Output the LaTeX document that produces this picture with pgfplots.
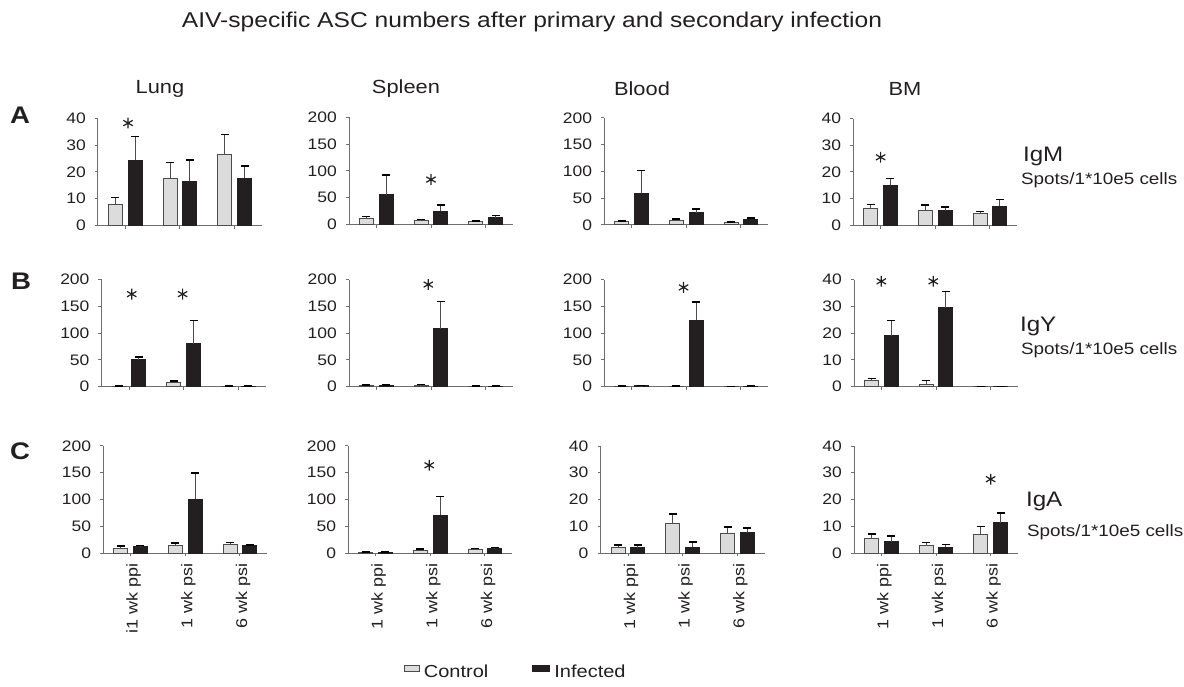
\documentclass[border=0pt]{standalone}
\usepackage{fontspec}
\setmainfont{Liberation Sans}[FakeStretch=1.15]
\usepackage{pgfplots}
\pgfplotsset{compat=1.18}
\definecolor{ctrl}{HTML}{DCDCDC}
\definecolor{inf}{HTML}{231F20}
\definecolor{axgray}{HTML}{6E6E6E}
\definecolor{txt}{HTML}{231F20}
\pgfplotsset{
 panel/.style={scale only axis, width=82pt, height=53.5pt, xmin=-0.5, xmax=2.5, ymin=0,
   enlargelimits=false, clip=false,
   axis x line*=bottom, axis y line*=left, axis line style={axgray, line width=0.5pt},
   tick align=outside, major tick length=1.6pt, tick style={axgray, line width=0.5pt},
   xtick={0,1,2}, xticklabels={,,},
   /pgf/number format/assume math mode=true,
   ticklabel style={font=\fontsize{7.6}{8.5}\selectfont, text=txt},
   yticklabel style={xshift=-1pt},
   anchor=south west},
 s40/.style={ymax=40, ytick={0,10,20,30,40}},
 s200/.style={ymax=200, ytick={0,50,100,150,200}},
 rotlab/.style={xticklabel style={rotate=90, anchor=east, yshift=-1.5pt, font=\fontsize{7.8}{9}\selectfont}},
 cbar/.style={ybar, bar width=7pt, bar shift=0pt, fill=ctrl, draw=black!70, line width=0.5pt,
   legend image code/.code={\draw[fill=ctrl, draw=black!70, line width=0.5pt] (0pt,0.5pt) rectangle (7.5pt,3.5pt);},
   error bars/.cd, y dir=plus, y explicit, error bar style={line width=0.5pt, black!70},
   error mark options={rotate=90, black, line width=0.8pt, mark size=2pt}},
 ibar/.style={ybar, bar width=7pt, bar shift=0pt, fill=inf, draw=inf, line width=0.5pt,
   legend image code/.code={\draw[fill=inf, draw=inf, line width=0.5pt] (0pt,0.5pt) rectangle (8.5pt,3.5pt);},
   error bars/.cd, y dir=plus, y explicit, error bar style={line width=0.5pt, black!70},
   error mark options={rotate=90, black, line width=0.8pt, mark size=2pt}},
 star/.style={only marks, mark=asterisk, mark size=2.7pt, mark options={line width=0.6pt, txt}},
}
\begin{document}
\begin{tikzpicture}
\useasboundingbox (0,0) rectangle (592pt,343pt);
% titles
\node[font=\fontsize{10.7}{12}\selectfont, text=txt] at (266pt,332pt) {AIV-specific ASC numbers after primary and secondary infection};
\foreach \x/\t in {80/Lung, 203/Spleen, 321/Blood, 452.5/BM}
  \node[font=\fontsize{9.5}{11}\selectfont, text=txt] at (\x pt,298.5pt) {\t};
\node[font=\fontsize{12}{13}\selectfont\bfseries, text=txt] at (10pt,285.25pt) {A};
\node[font=\fontsize{12}{13}\selectfont\bfseries, text=txt] at (10.5pt,202.5pt) {B};
\node[font=\fontsize{12}{13}\selectfont\bfseries, text=txt] at (10pt,117.5pt) {C};
\node[font=\fontsize{10.5}{12}\selectfont, text=txt, anchor=west] at (508pt,265pt) {IgM};
\node[font=\fontsize{8.2}{9}\selectfont, text=txt, anchor=west] at (507pt,253pt) {Spots/1*10e5 cells};
\node[font=\fontsize{10.5}{12}\selectfont, text=txt, anchor=west] at (506.5pt,180pt) {IgY};
\node[font=\fontsize{8.2}{9}\selectfont, text=txt, anchor=west] at (507pt,168pt) {Spots/1*10e5 cells};
\node[font=\fontsize{10.5}{12}\selectfont, text=txt, anchor=west] at (509.5pt,92.5pt) {IgA};
\node[font=\fontsize{8.2}{9}\selectfont, text=txt, anchor=west] at (510pt,77pt) {Spots/1*10e5 cells};

% bars: control at group-0.18, infected at group+0.18
% ===== Row A (IgM) =====
\begin{axis}[panel, s40, at={(49pt,230.25pt)}]
\addplot[cbar] coordinates {(-0.18,8.0) +- (0,2.5) (0.82,17.6) +- (0,5.9) (1.82,26.6) +- (0,7.4)};
\addplot[ibar] coordinates {(0.18,24.4) +- (0,8.8) (1.18,16.5) +- (0,8.0) (2.18,17.6) +- (0,4.6)};
\addplot[star] coordinates {(0.05,38.3)};
\end{axis}
\begin{axis}[panel, s200, at={(174.5pt,230.75pt)}]
\addplot[cbar] coordinates {(-0.18,11) +- (0,3.8) (0.82,6.8) +- (0,2.2) (1.82,5) +- (0,1)};
\addplot[ibar] coordinates {(0.18,56) +- (0,37) (1.18,24.6) +- (0,12.4) (2.18,13) +- (0,3.6)};
\addplot[star] coordinates {(1,84)};
\end{axis}
\begin{axis}[panel, s200, at={(302.15pt,230.5pt)}]
\addplot[cbar] coordinates {(-0.18,6) +- (0,2) (0.82,8) +- (0,3) (1.82,4.9) +- (0,1.1)};
\addplot[ibar] coordinates {(0.18,59.5) +- (0,42.5) (1.18,23.3) +- (0,6.7) (2.18,11) +- (0,2.5)};
\end{axis}
\begin{axis}[panel, s40, at={(426.65pt,230.25pt)}]
\addplot[cbar] coordinates {(-0.18,6.4) +- (0,1.4) (0.82,5.6) +- (0,2.1) (1.82,4.6) +- (0,0.6)};
\addplot[ibar] coordinates {(0.18,15.1) +- (0,2.4) (1.18,5.6) +- (0,1.3) (2.18,7.2) +- (0,2.5)};
\addplot[star] coordinates {(0,25.5)};
\end{axis}

% ===== Row B (IgY) =====
\begin{axis}[panel, s200, at={(50.85pt,149.65pt)}]
\addplot[cbar] coordinates {(-0.18,0.8) +- (0,0.4) (0.82,8) +- (0,3) (1.82,0.5) +- (0,0.3)};
\addplot[ibar] coordinates {(0.18,50) +- (0,5) (1.18,80) +- (0,44) (2.18,0.8) +- (0,0.4)};
\addplot[star] coordinates {(0.05,173) (0.98,173)};
\end{axis}
\begin{axis}[panel, s200, at={(174.5pt,149.65pt)}]
\addplot[cbar] coordinates {(-0.18,2) +- (0,1) (0.82,2.5) +- (0,1.5) (1.82,0.5) +- (0,0.3)};
\addplot[ibar] coordinates {(0.18,2) +- (0,1.5) (1.18,108.6) +- (0,50.9) (2.18,1) +- (0,0.5)};
\addplot[star] coordinates {(0.95,191)};
\end{axis}
\begin{axis}[panel, s200, at={(302.15pt,149.65pt)}]
\addplot[cbar] coordinates {(-0.18,0.8) +- (0,0.2) (0.82,1) +- (0,0.5) (1.82,0.5) +- (0,0.2)};
\addplot[ibar] coordinates {(0.18,1.5) +- (0,0.5) (1.18,124.5) +- (0,33.5) (2.18,0.8) +- (0,0.2)};
\addplot[star] coordinates {(0.95,185.6)};
\end{axis}
\begin{axis}[panel, s40, at={(427pt,149.65pt)}]
\addplot[cbar] coordinates {(-0.18,2.5) +- (0,0.6) (0.82,1) +- (0,1.3) (1.82,0.1) +- (0,0)};
\addplot[ibar] coordinates {(0.18,19.1) +- (0,5.7) (1.18,29.6) +- (0,6.0) (2.18,0.1) +- (0,0)};
\addplot[star] coordinates {(0,39.4) (0.95,39.4)};
\end{axis}

% ===== Row C (IgA) =====
\begin{axis}[panel, s200, rotlab, at={(51.65pt,66.5pt)}, xticklabels={i1 wk ppi,1 wk psi,6 wk psi}]
\addplot[cbar] coordinates {(-0.18,8.6) +- (0,5) (0.82,14) +- (0,5) (1.82,16) +- (0,3.8)};
\addplot[ibar] coordinates {(0.18,11.7) +- (0,2.3) (1.18,100.6) +- (0,49.4) (2.18,14) +- (0,1.4)};
\end{axis}
\begin{axis}[panel, s200, rotlab, at={(174.15pt,66.5pt)}, xticklabels={1 wk ppi,1 wk psi,6 wk psi},
  legend columns=2,
  legend style={at={(0.30,-1.12)}, anchor=west, draw=none, fill=none, text=txt,
    font=\fontsize{8.7}{10}\selectfont, /tikz/every even column/.append style={column sep=20pt}}]
\addplot[cbar] coordinates {(-0.18,1) +- (0,1) (0.82,5) +- (0,3) (1.82,6.8) +- (0,1.9)};
\addlegendentry{Control}
\addplot[ibar] coordinates {(0.18,1.5) +- (0,0.7) (1.18,70.8) +- (0,34.8) (2.18,9.3) +- (0,0.7)};
\addlegendentry{Infected}
\addplot[star] coordinates {(0.98,164)};
\end{axis}
\begin{axis}[panel, s40, rotlab, at={(300.35pt,66.5pt)}, xticklabels={1 wk ppi,1 wk psi,6 wk psi}]
\addplot[cbar] coordinates {(-0.18,1.9) +- (0,1) (0.82,11.2) +- (0,3.3) (1.82,7.2) +- (0,2.6)};
\addplot[ibar] coordinates {(0.18,1.9) +- (0,1) (1.18,2.2) +- (0,1.9) (2.18,7.6) +- (0,1.7)};
\end{axis}
\begin{axis}[panel, s40, rotlab, at={(427pt,66.5pt)}, xticklabels={1 wk ppi,1 wk psi,6 wk psi}]
\addplot[cbar] coordinates {(-0.18,5.6) +- (0,1.5) (0.82,2.7) +- (0,1.2) (1.82,7.1) +- (0,2.8)};
\addplot[ibar] coordinates {(0.18,4.2) +- (0,2.1) (1.18,2.2) +- (0,1.0) (2.18,11.3) +- (0,3.6)};
\addplot[star] coordinates {(2,27.6)};
\end{axis}
\end{tikzpicture}
\end{document}
